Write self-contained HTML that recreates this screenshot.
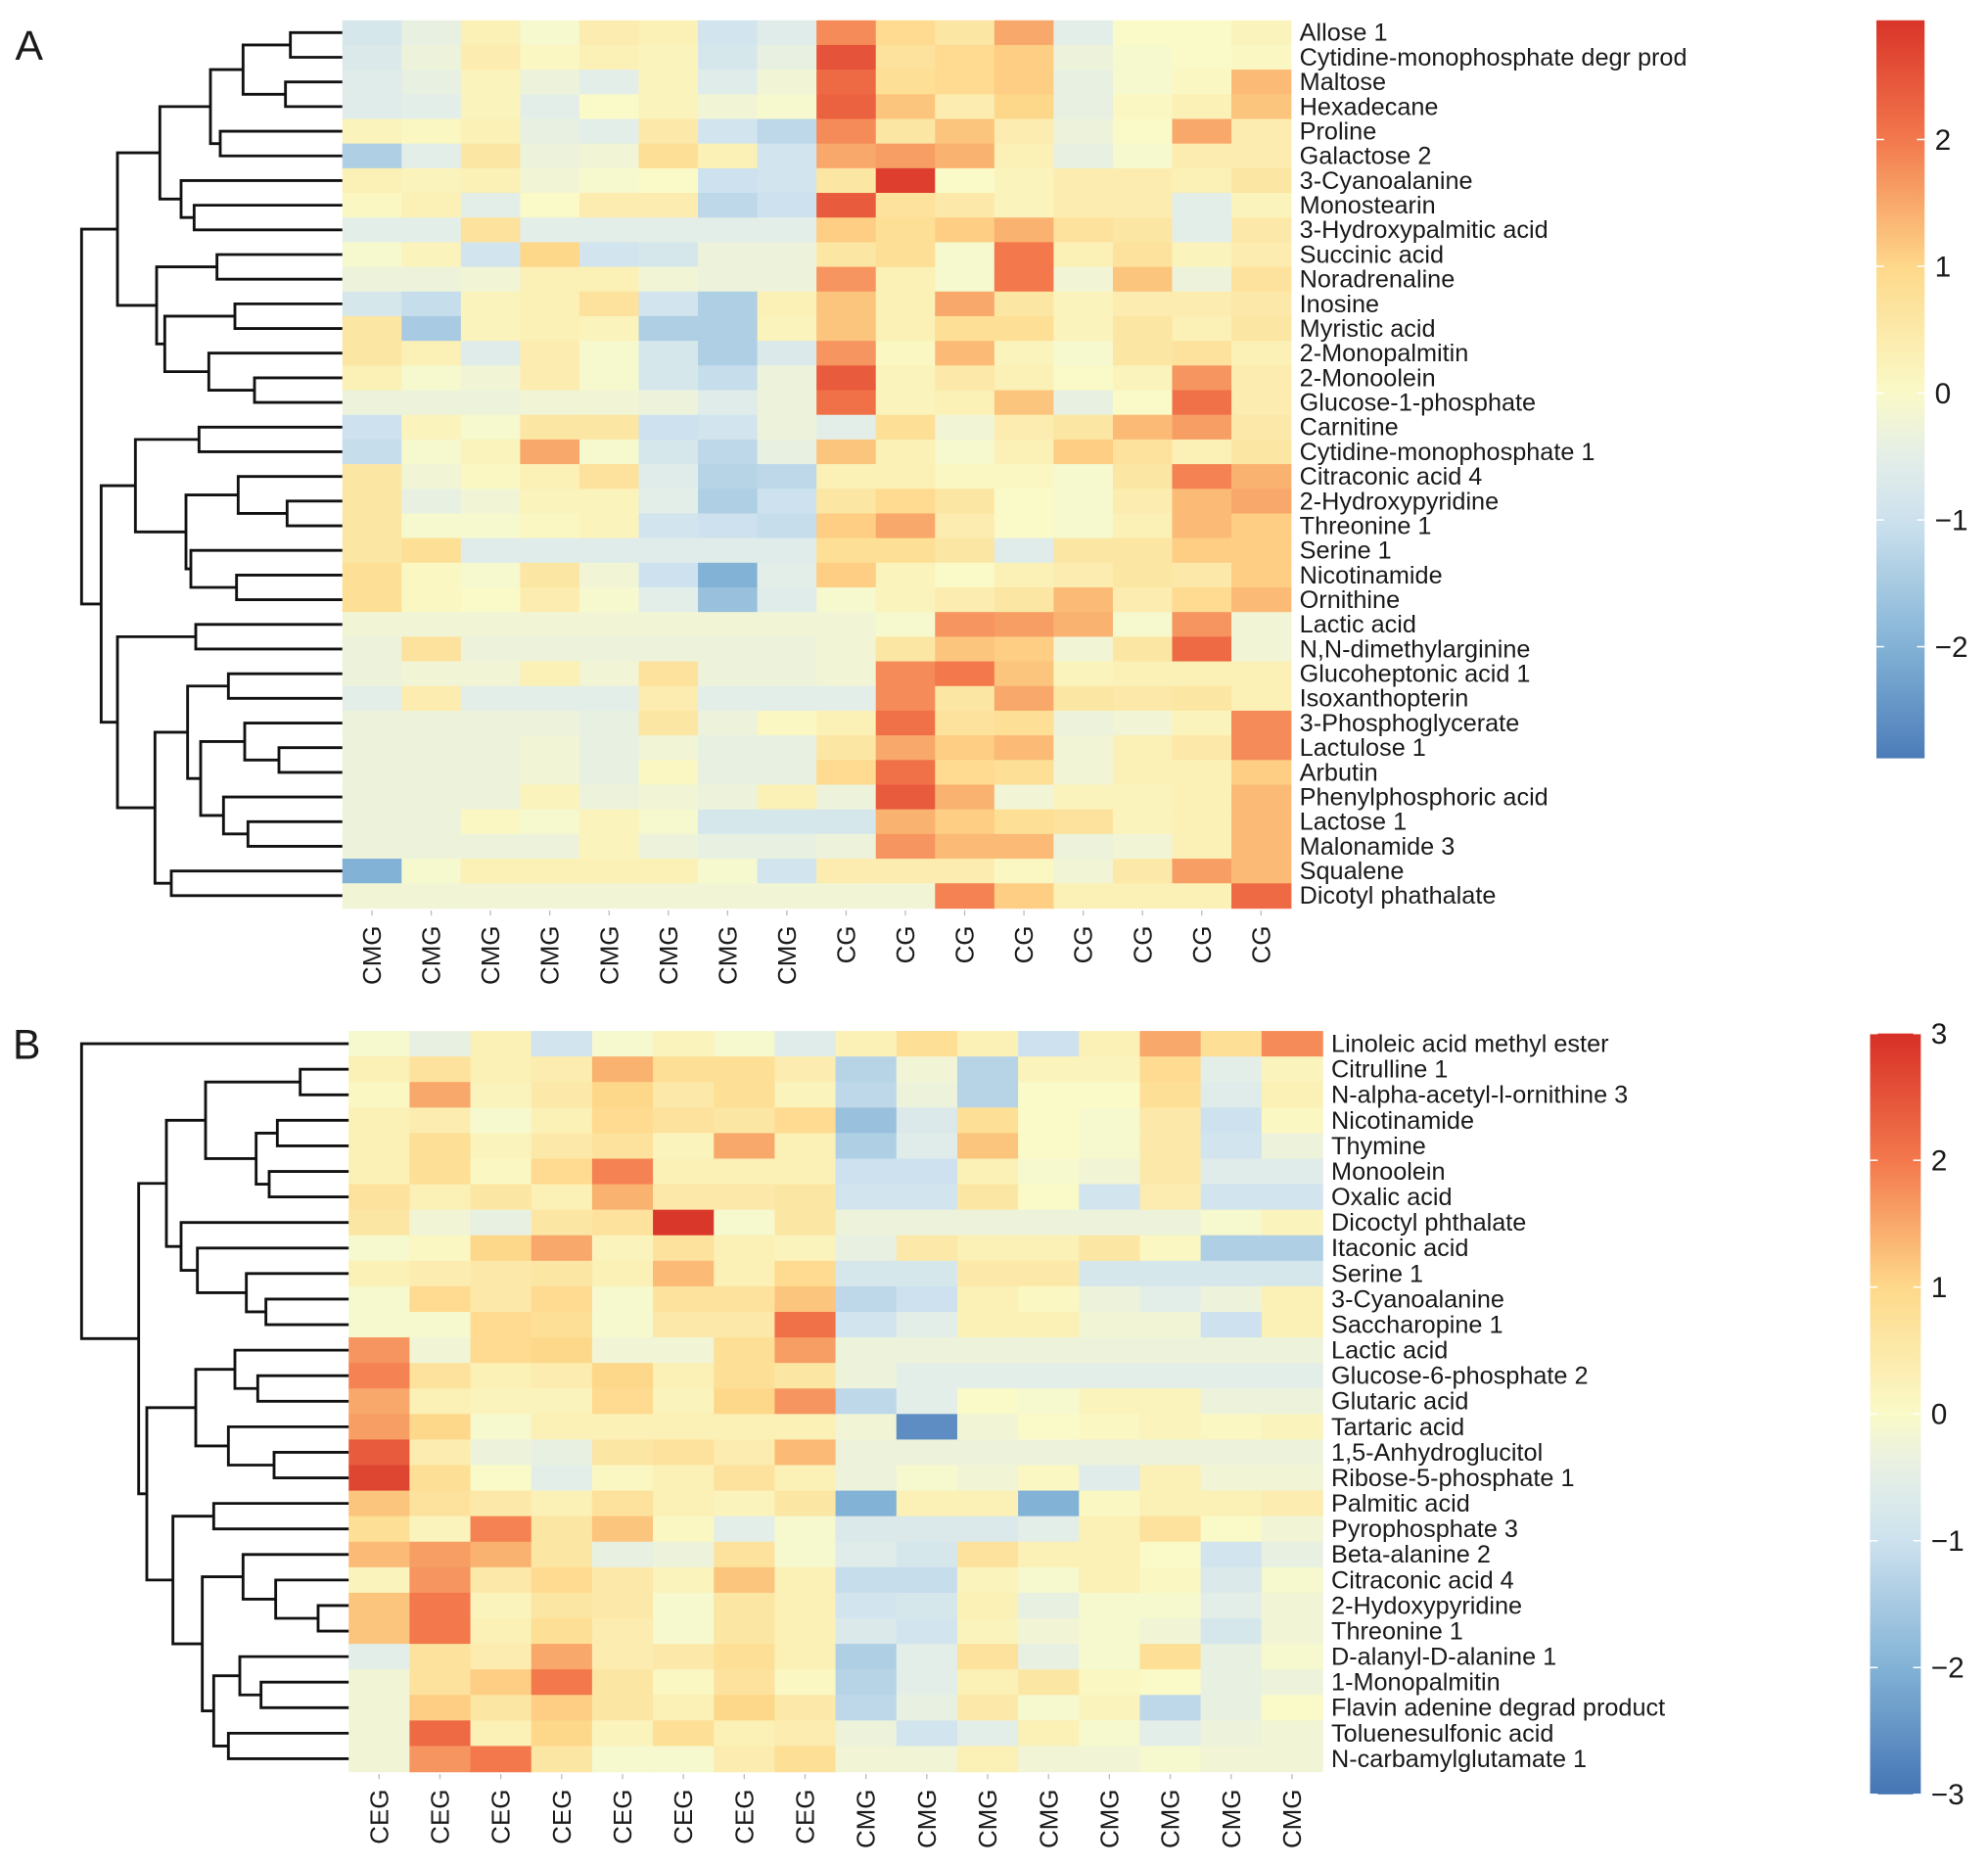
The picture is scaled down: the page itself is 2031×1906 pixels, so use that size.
<!DOCTYPE html>
<html><head><meta charset="utf-8"><style>
html,body{margin:0;padding:0;background:#fff;}
svg{display:block;}
text{font-family:"Liberation Sans",Arial,sans-serif;fill:#1a1a1a;}
</style></head>
<body>
<svg id="fig" width="2031" height="1906" viewBox="0 0 1568 1471.5" preserveAspectRatio="none" xmlns="http://www.w3.org/2000/svg">
<defs>
<linearGradient id="cbA" x1="0" y1="1" x2="0" y2="0"></linearGradient>
<linearGradient id="cbB" x1="0" y1="1" x2="0" y2="0"></linearGradient>
</defs>
<g id="root"></g>
</svg>
<script>
// ---------- Panel A data ----------
const rowsA = ["Allose 1","Cytidine-monophosphate degr prod","Maltose","Hexadecane","Proline","Galactose 2","3-Cyanoalanine","Monostearin","3-Hydroxypalmitic acid","Succinic acid","Noradrenaline","Inosine","Myristic acid","2-Monopalmitin","2-Monoolein","Glucose-1-phosphate","Carnitine","Cytidine-monophosphate 1","Citraconic acid 4","2-Hydroxypyridine","Threonine 1","Serine 1","Nicotinamide","Ornithine","Lactic acid","N,N-dimethylarginine","Glucoheptonic acid 1","Isoxanthopterin","3-Phosphoglycerate","Lactulose 1","Arbutin","Phenylphosphoric acid","Lactose 1","Malonamide 3","Squalene","Dicotyl phathalate"];
const colsA = ["CMG","CMG","CMG","CMG","CMG","CMG","CMG","CMG","CG","CG","CG","CG","CG","CG","CG","CG"];
const valuesA = [
[-0.8,-0.4,0.3,-0.1,0.4,0.3,-0.9,-0.6, 1.8,0.9,0.6,1.5,-0.5,0,0,0.2],
[-0.7,-0.3,0.4,0.1,0.3,0.2,-0.8,-0.4, 2.5,0.7,0.9,1.1,-0.3,-0.1,0,0.1],
[-0.6,-0.4,0.2,-0.3,-0.5,0.2,-0.6,-0.2, 2.2,0.8,0.9,1.1,-0.4,-0.1,0.1,1.3],
[-0.6,-0.5,0.2,-0.5,0,0.2,-0.2,-0.1, 2.3,1.2,0.4,1.0,-0.4,0.1,0.3,1.2],
[0.2,0.1,0.3,-0.4,-0.5,0.5,-0.9,-1.2, 1.8,0.6,1.2,0.4,-0.3,0,1.5,0.4],
[-1.4,-0.5,0.6,-0.3,-0.2,0.8,0.3,-0.9, 1.5,1.6,1.4,0.3,-0.4,-0.1,0.4,0.4],
[0.3,0.2,0.3,-0.2,-0.1,0,-1.0,-0.9, 0.6,2.8,0,0.2,0.4,0.4,0.3,0.6],
[0.1,0.3,-0.5,0,0.4,0.4,-1.2,-1.0, 2.4,0.7,0.5,0.2,0.4,0.4,-0.5,0.2],
[-0.5,-0.5,0.7,-0.5,-0.5,-0.5,-0.5,-0.5, 1.1,0.8,1.1,1.4,0.7,0.6,-0.5,0.5],
[-0.1,0.2,-0.9,1.0,-0.9,-0.8,-0.3,-0.3, 0.6,0.8,-0.1,2.0,0.3,0.7,0.2,0.4],
[-0.3,-0.3,-0.2,0.3,0.3,-0.2,-0.3,-0.3, 1.7,0.3,-0.1,2.0,-0.2,1.2,-0.3,0.7],
[-0.8,-1.1,0.2,0.3,0.7,-0.9,-1.4,0.3, 1.2,0.3,1.5,0.6,0.2,0.4,0.4,0.5],
[0.6,-1.5,0.2,0.3,0.2,-1.4,-1.4,0.2, 1.2,0.3,0.8,0.8,0.2,0.6,0.3,0.6],
[0.6,0.3,-0.6,0.4,-0.1,-0.8,-1.4,-0.7, 1.7,0.1,1.3,0.2,-0.1,0.6,0.7,0.3],
[0.3,-0.1,-0.2,0.4,-0.1,-0.8,-1.1,-0.3, 2.4,0.2,0.5,0.3,0,0.2,1.7,0.4],
[-0.3,-0.3,-0.3,-0.2,-0.2,-0.3,-0.6,-0.3, 2.1,0.2,0.3,1.2,-0.4,0,2.1,0.4],
[-1.0,0.2,-0.1,0.6,0.6,-1.0,-0.9,-0.3, -0.5,0.8,-0.2,0.4,0.6,1.3,1.6,0.5],
[-1.1,-0.1,0.2,1.5,-0.1,-0.8,-1.2,-0.4, 1.2,0.3,-0.1,0.3,1.1,0.7,0.3,0.6],
[0.6,-0.2,0.1,0.3,0.7,-0.6,-1.3,-1.2, 0.3,0.3,0.1,0.1,-0.1,0.6,1.9,1.4],
[0.6,-0.4,-0.2,0.2,0.2,-0.5,-1.4,-1.0, 0.6,0.9,0.6,0,-0.1,0.4,1.3,1.5],
[0.6,-0.1,-0.1,0.1,0.2,-0.9,-1.0,-1.1, 1.1,1.5,0.4,0,-0.1,0.3,1.3,1.1],
[0.6,0.8,-0.6,-0.6,-0.6,-0.6,-0.6,-0.6, 0.8,0.8,0.6,-0.6,0.6,0.6,1.1,1.1],
[0.8,0.1,-0.1,0.6,-0.2,-1.0,-2.0,-0.5, 1.1,0.2,0,0.3,0.4,0.6,0.5,1.1],
[0.8,0.1,0,0.4,-0.1,-0.5,-1.7,-0.6, -0.1,0.2,0.4,0.6,1.3,0.4,0.9,1.3],
[-0.2,-0.2,-0.2,-0.2,-0.2,-0.2,-0.2,-0.2, -0.2,-0.1,1.7,1.6,1.4,-0.1,1.7,-0.2],
[-0.3,0.7,-0.3,-0.3,-0.3,-0.3,-0.3,-0.3, -0.2,0.6,1.2,1.1,-0.2,0.6,2.2,-0.2],
[-0.3,-0.2,-0.2,0.3,-0.2,0.7,-0.3,-0.3, -0.2,1.8,2.0,1.2,0.2,0.3,0.3,0.3],
[-0.5,0.4,-0.5,-0.5,-0.5,0.4,-0.5,-0.5, -0.5,1.8,0.6,1.5,0.6,0.5,0.6,0.3],
[-0.3,-0.3,-0.3,-0.3,-0.4,0.6,-0.3,0.1, 0.3,2.1,0.7,0.8,-0.3,-0.2,0.2,1.8],
[-0.3,-0.3,-0.3,-0.2,-0.4,-0.2,-0.4,-0.4, 0.6,1.5,1.1,1.3,-0.2,0.3,0.5,1.8],
[-0.3,-0.3,-0.3,-0.2,-0.4,0.1,-0.4,-0.4, 0.9,2.1,0.9,0.8,-0.2,0.3,0.3,1.1],
[-0.3,-0.3,-0.3,0.2,-0.3,-0.2,-0.3,0.3, -0.3,2.4,1.4,-0.2,0.2,0.2,0.3,1.3],
[-0.3,-0.3,0.1,-0.1,0.2,-0.1,-0.8,-0.8, -0.8,1.4,1.1,0.8,0.7,0.2,0.3,1.3],
[-0.3,-0.3,-0.3,-0.3,0.2,-0.3,-0.4,-0.4, -0.3,1.7,1.3,1.3,-0.3,-0.2,0.3,1.3],
[-2.0,-0.1,0.3,0.3,0.3,0.3,-0.1,-0.9, 0.4,0.4,0.4,0.1,-0.2,0.5,1.6,1.3],
[-0.2,-0.2,-0.2,-0.2,-0.2,-0.2,-0.2,-0.2, -0.2,-0.2,1.9,1.1,0.3,0.3,0.3,2.2]
];
const ticksA = [2,1,0,-1,-2];

// ---------- Panel B data ----------
const rowsB = ["Linoleic acid methyl ester","Citrulline 1","N-alpha-acetyl-l-ornithine 3","Nicotinamide","Thymine","Monoolein","Oxalic acid","Dicoctyl phthalate","Itaconic acid","Serine 1","3-Cyanoalanine","Saccharopine 1","Lactic acid","Glucose-6-phosphate 2","Glutaric acid","Tartaric acid","1,5-Anhydroglucitol","Ribose-5-phosphate 1","Palmitic acid","Pyrophosphate 3","Beta-alanine 2","Citraconic acid  4","2-Hydoxypyridine","Threonine 1","D-alanyl-D-alanine 1","1-Monopalmitin","Flavin adenine degrad product","Toluenesulfonic acid","N-carbamylglutamate 1"];
const colsB = ["CEG","CEG","CEG","CEG","CEG","CEG","CEG","CEG","CMG","CMG","CMG","CMG","CMG","CMG","CMG","CMG"];
const valuesB = [
[-0.1,-0.4,0.3,-0.9,-0.1,0.2,-0.1,-0.6, 0.3,0.8,0.3,-1.0,0.3,1.5,0.8,1.8],
[0.3,0.7,0.3,0.4,1.4,0.8,0.8,0.4, -1.3,-0.2,-1.3,0.2,0.2,0.9,-0.5,0.2],
[0.1,1.5,0.2,0.5,1.0,0.5,0.8,0.2, -1.2,-0.3,-1.3,0,0,0.8,-0.6,0.3],
[0.3,0.4,-0.1,0.3,0.9,0.7,0.6,0.9, -1.7,-0.7,0.8,0,-0.1,0.5,-1.0,0.1],
[0.3,0.8,0.2,0.5,0.7,0.2,1.5,0.3, -1.4,-0.6,1.2,0,-0.1,0.5,-0.9,-0.3],
[0.3,0.8,0.1,0.9,1.9,0.3,0.3,0.3, -1.0,-1.0,0.3,-0.1,-0.2,0.5,-0.6,-0.6],
[0.7,0.3,0.6,0.3,1.4,0.5,0.5,0.6, -0.9,-0.9,0.6,0,-0.9,0.4,-0.9,-0.9],
[0.6,-0.2,-0.4,0.6,0.7,2.9,-0.1,0.6, -0.3,-0.3,-0.3,-0.3,-0.3,-0.3,-0.1,0.2],
[-0.1,0.1,1.0,1.5,0.2,0.7,0.3,0.2, -0.4,0.5,0.3,0.3,0.6,0.1,-1.4,-1.4],
[0.3,0.4,0.5,0.6,0.3,1.3,0.3,0.9, -0.8,-0.8,0.5,0.5,-0.8,-0.8,-0.8,-0.8],
[-0.1,0.9,0.5,0.9,-0.1,0.7,0.7,1.2, -1.2,-1.0,0.3,0.1,-0.3,-0.5,-0.3,0.3],
[-0.1,-0.1,0.9,0.8,-0.1,0.5,0.5,2.1, -0.9,-0.5,0.3,0.3,-0.2,-0.2,-1.0,0.3],
[1.7,-0.2,0.9,1.0,-0.2,-0.2,0.8,1.6, -0.3,-0.3,-0.3,-0.3,-0.3,-0.3,-0.3,-0.3],
[1.9,0.7,0.3,0.4,1.0,0.3,0.8,0.6, -0.3,-0.5,-0.5,-0.5,-0.5,-0.5,-0.5,-0.5],
[1.5,0.3,0.2,0.2,0.9,0.2,1.0,1.7, -1.2,-0.5,0,-0.1,0.2,0.2,-0.3,-0.3],
[1.6,1.0,-0.1,0.3,0.3,0.3,0.3,0.3, -0.2,-2.6,-0.2,0,0.1,0.2,0.1,0.2],
[2.4,0.4,-0.3,-0.4,0.6,0.7,0.4,1.3, -0.3,-0.3,-0.3,-0.3,-0.3,-0.3,-0.3,-0.3],
[2.7,0.8,0,-0.5,0.1,0.3,0.7,0.3, -0.3,-0.1,-0.2,0.1,-0.6,0.3,-0.2,-0.2],
[1.2,0.7,0.5,0.3,0.7,0.3,0.2,0.6, -2.0,0.3,0.3,-2.0,0.1,0.3,0.3,0.4],
[0.8,0.2,1.9,0.6,1.2,0.1,-0.5,-0.1, -0.7,-0.7,-0.7,-0.5,0.3,0.7,0,-0.2],
[1.3,1.6,1.4,0.6,-0.4,-0.3,0.7,-0.1, -0.6,-0.8,0.7,0.3,0.3,0,-0.9,-0.4],
[0.2,1.7,0.5,0.9,0.5,0.2,1.2,0.3, -1.1,-1.1,0.2,-0.1,0.3,0.1,-0.7,-0.1],
[1.2,2.0,0.2,0.6,0.5,-0.1,0.6,0.3, -0.9,-0.8,0.3,-0.4,-0.1,-0.1,-0.5,-0.2],
[1.2,2.0,0.3,0.8,0.4,-0.1,0.6,0.3, -0.7,-0.9,0.2,-0.2,-0.1,-0.2,-0.8,-0.2],
[-0.5,0.7,0.4,1.5,0.4,0.5,0.8,0.3, -1.4,-0.5,0.7,-0.4,-0.1,0.8,-0.4,-0.1],
[-0.2,0.7,1.1,2.0,0.6,0.1,0.7,0.1, -1.3,-0.5,0.3,0.6,0.1,0,-0.4,-0.3],
[-0.2,1.1,0.6,1.1,0.6,0.3,1.0,0.5, -1.2,-0.4,0.5,-0.1,0.2,-1.2,-0.4,0],
[-0.2,2.2,0.3,1.0,0.2,0.8,0.3,0.4, -0.3,-0.9,-0.5,0.3,-0.1,-0.5,-0.3,-0.2],
[-0.2,1.7,2.0,0.6,-0.1,-0.1,0.4,0.8, -0.2,-0.2,0.3,-0.2,-0.2,-0.1,-0.2,-0.2]
];
const ticksB = [3,2,1,0,-1,-2,-3];

// dendrogram merge structure: [left, right, mergeLevel]
const treeA = [[ [ [ [ [[0,1,680],[2,3,665],535], [4,5,465], 435], [6,[7,8,385],345], 280], [[9,10,455],[[11,12,510],[13,[14,15,570],430],295],270], 150],
  [ [[16,17,400],[[18,[19,20,670],520],[21,[22,23,515],375],360],205],
    [[24,25,390],[[[26,27,490],[[28,[29,30,645],540],[31,[32,33,550],475],405],365],[34,35,315],265],150], 100], 40]];
const treeB = [[0,[[[[1,2,710],[[3,4,640],[5,6,615],575],420],[7,[8,[9,[10,11,605],545],395],345],300],
  [[[12,[13,14,580],510],[15,[16,17,630],490],390],[[18,19,445],[[20,[21,[22,23,765],635],535],[[24,[25,26,590],525],[27,28,490],445],410],320],240],215],40]];

// ---------- colour scale ----------
const cStops = [[-3,[69,117,180]],[-2,[130,178,214]],[-1,[205,226,238]],[-0.5,[228,238,232]],[0,[250,250,200]],[1,[254,216,138]],[2,[243,120,76]],[3,[215,48,39]]];
function color(v){
  v=Math.max(-3,Math.min(3,v));
  for(let i=0;i<cStops.length-1;i++){
    const a=cStops[i],b=cStops[i+1];
    if(v<=b[0]){const t=(v-a[0])/(b[0]-a[0]);
      const c=a[1].map((x,k)=>Math.round(x+(b[1][k]-x)*t));
      return `rgb(${c[0]},${c[1]},${c[2]})`;}
  }
  return 'rgb(215,48,39)';
}
const NS="http://www.w3.org/2000/svg";
const root=document.getElementById('root');
function mk(tag,attrs,parent){const e=document.createElementNS(NS,tag);for(const k in attrs)e.setAttribute(k,attrs[k]);(parent||root).appendChild(e);return e;}

function drawPanel(cfg){
  const g=mk('g',{});
  
  
  const nR=cfg.rows.length,nC=cfg.cols.length;
  const cw=(cfg.x1-cfg.x0)/nC, rh=(cfg.y1-cfg.y0)/nR;
  const xS=c=>cfg.x0+c*cw, yS=r=>cfg.y0+r*rh;
  const cells=mk('g',{},g);
  
  
  cfg.values.forEach((row,r)=>row.forEach((v,c)=>{
    const rc=mk('rect',{x:xS(c),y:yS(r),width:cw+0.6,height:rh+0.6,fill:color(v)},cells);
    
    
  }));
  cfg.rows.forEach((name,r)=>{
    const t=mk('text',{x:cfg.x1+7,y:yS(r)+rh/2+6.5,'font-size':19.5},g);
    t.textContent=name;
    
    
  });
  cfg.cols.forEach((name,c)=>{
    const cx=xS(c)+cw/2;
    mk('line',{x1:cx,x2:cx,y1:cfg.y1+2,y2:cfg.y1+6,stroke:'#bbb','stroke-width':1},g);
    const t=mk('text',{x:0,y:0,'font-size':20,'text-anchor':'end',transform:`translate(${cx+7},${cfg.y1+14}) rotate(-90)`},g);
    t.textContent=name;
    
    
  });
  const dg=mk('g',{},g);
  
  
  const hx=h=>(70+h/3)/1.2953;
  function walk(n){
    if(typeof n==='number') return {x:cfg.x0,y:yS(n)+rh/2};
    const a=walk(n[0]),b=walk(n[1]),x=hx(n[2]);
    mk('path',{d:`M${a.x},${a.y}H${x}V${b.y}H${b.x}`,fill:'none',stroke:'#111','stroke-width':2.2},dg);
    return {x:x,y:(a.y+b.y)/2};
  }
  try{ walk(cfg.tree[0]); }catch(e){}
  const cb=cfg.cb;
  const grad=document.getElementById(cb.id);
  const lo=cb.vmin,hi=cb.vmax;
  for(let i=0;i<=30;i++){const v=lo+(hi-lo)*i/30;
    mk('stop',{offset:(i/30),'stop-color':color(v)},grad);}
  const bar=mk('rect',{x:cb.x,y:cb.zeroY-cb.unit*hi,width:cb.w,height:cb.unit*(hi-lo),fill:`url(#${cb.id})`},g);
  
  
  cfg.ticks.forEach(v=>{
    const y=cb.zeroY-cb.unit*v;
    mk('line',{x1:cb.x,x2:cb.x+6,y1:y,y2:y,stroke:'#fff','stroke-width':1.2},g);
    mk('line',{x1:cb.x+cb.w-6,x2:cb.x+cb.w,y1:y,y2:y,stroke:'#fff','stroke-width':1.2},g);
    const t=mk('text',{x:cb.x+cb.w+8,y:y+8,'font-size':23},g);
    t.textContent=v<0?('\u2212'+(-v)):String(v);
    
    
  });
  const L=mk('text',{x:cfg.letter[0],y:cfg.letter[1],'font-size':33},g);
  L.textContent=cfg.letter[2];
  
  
}

drawPanel({name:'panel-a',rows:rowsA,cols:colsA,values:valuesA,tree:treeA,ticks:ticksA,
  x0:270,x1:1018,y0:16,y1:716,
  cb:{id:'cbA',x:1480,w:38,zeroY:310,unit:100,vmin:-2.88,vmax:2.94},letter:[12,47,'A']});
drawPanel({name:'panel-b',rows:rowsB,cols:colsB,values:valuesB,tree:treeB,ticks:ticksB,
  x0:275,x1:1043,y0:813,y1:1397,
  cb:{id:'cbB',x:1475,w:40,zeroY:1115,unit:100,vmin:-3,vmax:3},letter:[10,835,'B']});
</script>
</body></html>
